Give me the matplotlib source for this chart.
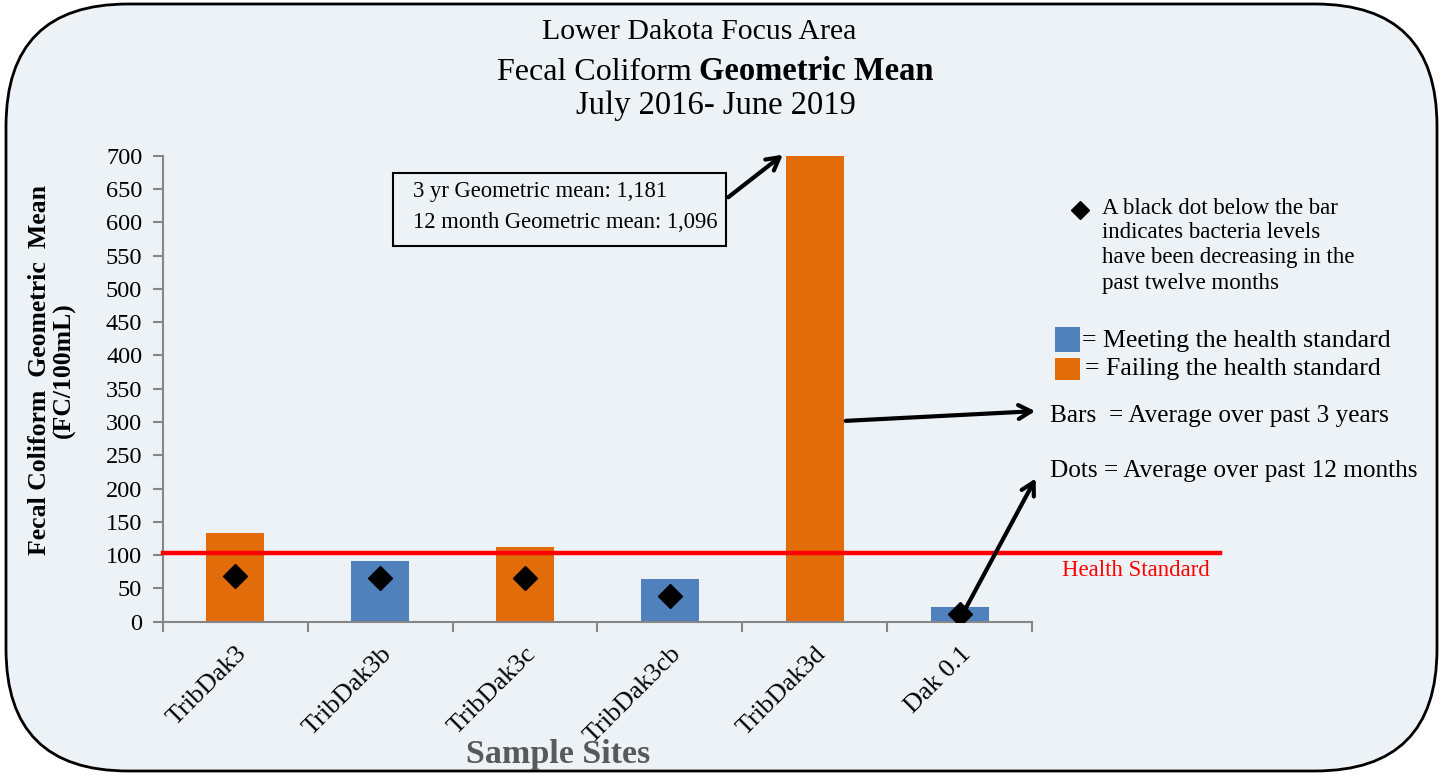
import matplotlib
matplotlib.use("Agg")
import matplotlib.pyplot as plt
from matplotlib.patches import FancyBboxPatch, Rectangle
import numpy as np

# ---------------- data ----------------
sites = ["TribDak3", "TribDak3b", "TribDak3c", "TribDak3cb", "TribDak3d", "Dak 0.1"]
geo_mean_3yr = [133, 91, 112, 64, 1181, 22]
geo_mean_12mo = [69, 66, 66, 39, 1096, 12]
meets_standard = [False, True, False, True, False, True]
health_standard = 103
y_ticks = list(range(0, 701, 50))
y_max = 700

# ---------------- style ----------------
plt.rcParams["font.family"] = ["Liberation Serif", "DejaVu Serif"]
ORANGE = "#E36C0A"
BLUE = "#4F81BD"
BG = "#EDF2F7"
AXC = "#868686"

W, H = 1447, 777
fig = plt.figure(figsize=(W / 100, H / 100), dpi=100)
fig.patch.set_facecolor("white")

# background axes in pixel coordinates (for the rounded frame)
bg = fig.add_axes([0, 0, 1, 1], zorder=0)
bg.set_xlim(0, W)
bg.set_ylim(H, 0)
bg.axis("off")
bg.add_patch(FancyBboxPatch((6, 4), 1437 - 6, 771 - 4,
                            boxstyle="round,pad=0,rounding_size=122",
                            facecolor=BG, edgecolor="black", linewidth=2))

# main chart axes
def px2fig(x0, y0, x1, y1):
    return [x0 / W, 1 - y1 / H, (x1 - x0) / W, (y1 - y0) / H]

ax = fig.add_axes(px2fig(163, 155.7, 1032, 621.7), zorder=1)
ax.patch.set_visible(False)

x = np.arange(len(sites))
colors = [BLUE if m else ORANGE for m in meets_standard]
ax.bar(x, geo_mean_3yr, width=0.4, color=colors, zorder=2)
ax.plot(x, geo_mean_12mo, linestyle="none", marker="D", markersize=12,
        color="black", zorder=4)
ax.axhline(health_standard, xmin=0, xmax=1.216, color="#FF0000", lw=3.2,
           clip_on=False, zorder=3)

ax.set_xlim(-0.5, len(sites) - 0.5)
ax.set_ylim(0, y_max)
ax.set_yticks(y_ticks)
ax.set_yticklabels([str(v) for v in y_ticks], fontsize=17.5)
ax.set_xticks(x)
ax.set_xticklabels(sites, rotation=45, ha="right", va="top",
                   rotation_mode="anchor", fontsize=19)
ax.set_xticks(np.arange(-0.5, len(sites)), minor=True)
ax.tick_params(axis="x", which="major", length=0, pad=15)
ax.tick_params(axis="x", which="minor", length=7, width=1.5, color=AXC, direction="out")
ax.tick_params(axis="y", length=7, width=1.5, color=AXC, pad=8)
for s in ["top", "right"]:
    ax.spines[s].set_visible(False)
for s in ["left", "bottom"]:
    ax.spines[s].set_color(AXC)
    ax.spines[s].set_linewidth(1.5)

# overlay axes in pixel coordinates for texts/annotations
ov = fig.add_axes([0, 0, 1, 1], zorder=3)
ov.set_xlim(0, W)
ov.set_ylim(H, 0)
ov.axis("off")
ov.patch.set_visible(False)

# titles
ov.text(699, 32, "Lower Dakota Focus Area", ha="center", va="center", fontsize=21.5)
ov.text(716, 106, "July 2016- June 2019", ha="center", va="center", fontsize=23.5)
t1 = ov.text(497, 80, "Fecal Coliform ", ha="left", va="baseline", fontsize=23)
fig.canvas.draw()
r = fig.canvas.get_renderer()
bb = t1.get_window_extent(r)
ov.text(bb.x1 - 1, 80, "Geometric Mean",
        ha="left", va="baseline", fontsize=23.5, fontweight="bold")

# axis labels
ov.text(52, 370, "Fecal Coliform  Geometric  Mean\n(FC/100mL)", rotation=90,
        ha="center", va="center", fontsize=18.5, fontweight="bold", linespacing=1.1)
ov.text(558, 755, "Sample Sites", ha="center", va="center", fontsize=24.5,
        fontweight="bold", color="#595959")

# info box
ov.add_patch(Rectangle((393, 173), 726 - 393, 246 - 173, facecolor="none",
                       edgecolor="black", lw=1.5))
ov.text(413, 191, "3 yr Geometric mean: 1,181", ha="left", va="center", fontsize=16.3)
ov.text(413, 222, "12 month Geometric mean: 1,096", ha="left", va="center", fontsize=16.3)

arrow = dict(arrowstyle="->,head_length=0.9,head_width=0.5", color="black", lw=3)
ov.annotate("", xy=(785, 153), xytext=(726, 199), arrowprops=arrow)
ov.annotate("", xy=(1038, 411), xytext=(843, 421), arrowprops=arrow)
ov.annotate("", xy=(1037, 476), xytext=(960, 619), arrowprops=arrow)

# notes
ov.plot([1080], [210], marker="D", markersize=9.5, color="black")
for i, line in enumerate(["A black dot below the bar", "indicates bacteria levels",
                          "have been decreasing in the", "past twelve months"]):
    ov.text(1102, 208 + i * 25, line, ha="left", va="center", fontsize=16.5)

ov.add_patch(Rectangle((1055, 327), 25, 25, facecolor=BLUE, edgecolor="none"))
ov.add_patch(Rectangle((1055, 358), 25, 22, facecolor=ORANGE, edgecolor="none"))
ov.text(1082, 341, "= Meeting the health standard", ha="left", va="center", fontsize=18.6)
ov.text(1085, 369, "= Failing the health standard", ha="left", va="center", fontsize=18.6)

ov.text(1050, 416, "Bars  = Average over past 3 years", ha="left", va="center", fontsize=18.2)
ov.text(1050, 471, "Dots = Average over past 12 months", ha="left", va="center", fontsize=18.2)
ov.text(1062, 571, "Health Standard", ha="left", va="center", fontsize=16.4, color="#FF0000")

fig.savefig("out.png", dpi=100, facecolor="white")
